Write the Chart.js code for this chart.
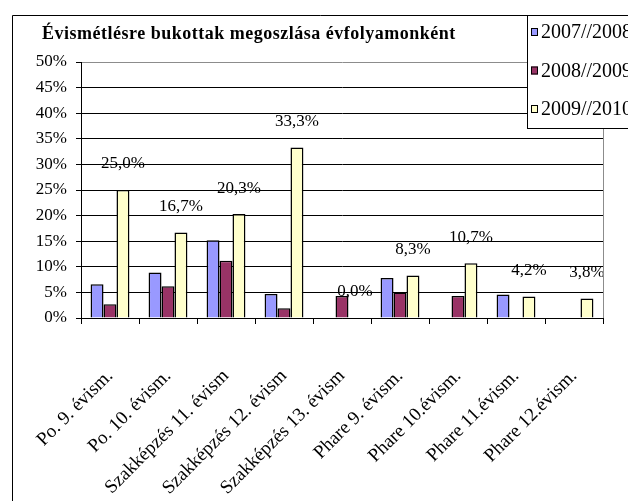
<!DOCTYPE html>
<html lang="hu">
<head>
<meta charset="UTF-8">
<title>Évismétlésre bukottak megoszlása évfolyamonként</title>
<script src="https://cdn.jsdelivr.net/npm/chart.js"></script>
<style>
  html, body { margin: 0; padding: 0; background: #fff; overflow: hidden; }
  #wrap { width: 628px; height: 501px; }
</style>
</head>
<body>
<div id="wrap"><canvas id="bukottChart" width="628" height="501"></canvas></div>
<script>
const chartTitle = 'Évismétlésre bukottak megoszlása évfolyamonként';
const categories = ['Po. 9. évism.', 'Po. 10. évism.', 'Szakképzés 11. évism', 'Szakképzés 12. évism',
    'Szakképzés 13. évism', 'Phare 9. évism.', 'Phare 10.évism.', 'Phare 11.évism.', 'Phare 12.évism.'];
const seriesNames = ['2007//2008', '2008//2009', '2009//2010'];
const values0708 = [6.6, 8.9, 15.2, 4.7, null, 7.8, null, 4.6, null];
const values0809 = [2.7, 6.2, 11.2, 1.9, 4.3, 5.0, 4.3, null, null];
const values0910 = [25.0, 16.7, 20.3, 33.3, 0.0, 8.3, 10.7, 4.2, 3.8];
const yTicks = [0, 5, 10, 15, 20, 25, 30, 35, 40, 45, 50];
const colors = ['#9999FF', '#993366', '#FFFFCC'];

const serif = "'Liberation Serif', 'Times New Roman', serif";

// keret, cím
const framePlugin = {
    id: 'frame',
    beforeDraw(chart) {
        const c = chart.ctx;
        c.save();
        c.fillStyle = '#fff';
        c.fillRect(0, 0, chart.width, chart.height);
        c.strokeStyle = '#000';
        c.lineWidth = 1;
        c.beginPath();
        c.moveTo(12.5, chart.height);
        c.lineTo(12.5, 15.5);
        c.lineTo(chart.width, 15.5);
        c.stroke();
        c.fillStyle = '#000';
        c.font = 'bold 18px ' + serif;
        c.letterSpacing = '0.5px';
        c.textBaseline = 'alphabetic';
        c.fillText(chartTitle, 42, 39);
        c.restore();
    },
    afterDraw(chart) {
        const c = chart.ctx;
        const a = chart.chartArea;
        c.save();
        // szürke jobb szél
        c.strokeStyle = '#8c8c8c';
        c.beginPath();
        c.moveTo(Math.round(a.right) + 0.5, a.top);
        c.lineTo(Math.round(a.right) + 0.5, a.bottom);
        c.stroke();
        // jelmagyarázat
        c.fillStyle = '#fff';
        c.fillRect(527, 15, 120, 113);
        c.strokeStyle = '#000';
        c.strokeRect(527.5, 15.5, 120, 113);
        c.font = '20px ' + serif;
        c.textBaseline = 'middle';
        chart.data.datasets.forEach((ds, i) => {
            const y = 32 + i * 38.5;
            c.fillStyle = ds.backgroundColor;
            c.fillRect(531, y - 4, 7, 8);
            c.strokeStyle = '#000';
            c.strokeRect(531.5, y - 3.5, 6, 7);
            c.fillStyle = '#000';
            c.fillText(ds.label, 541, y + 1);
        });
        c.restore();
    }
};

// értékcímkék a 2009/2010 oszlopok fölött
const valueLabels = {
    id: 'valueLabels',
    afterDatasetsDraw(chart) {
        const c = chart.ctx;
        const meta = chart.getDatasetMeta(2);
        const ds = chart.data.datasets[2];
        c.save();
        c.font = '17px ' + serif;
        c.fillStyle = '#000';
        c.textAlign = 'center';
        c.textBaseline = 'middle';
        meta.data.forEach((bar, i) => {
            const v = ds.data[i];
            if (v === null) return;
            c.fillText(v.toFixed(1).replace('.', ',') + '%', bar.x, bar.y - 26);
        });
        c.restore();
    }
};

const ctx = document.getElementById('bukottChart').getContext('2d');
new Chart(ctx, {
    type: 'bar',
    data: {
        labels: categories,
        datasets: [values0708, values0809, values0910].map((d, i) => ({
            label: seriesNames[i],
            data: d,
            backgroundColor: colors[i],
            borderColor: '#000',
            borderWidth: 1.5,
            borderSkipped: 'bottom',
            categoryPercentage: 0.67,
            barPercentage: 1
        }))
    },
    options: {
        responsive: false,
        animation: false,
        events: [],
        layout: { padding: { left: 0, top: 62, right: 25, bottom: 0 } },
        plugins: {
            legend: { display: false },
            title: { display: false },
            tooltip: { enabled: false }
        },
        scales: {
            x: {
                grid: { drawOnChartArea: false, drawTicks: true, tickLength: 6, tickColor: '#000', offset: true },
                border: { color: '#000', width: 1 },
                ticks: {
                    color: '#000',
                    font: { family: serif, size: 19 },
                    minRotation: 45,
                    maxRotation: 45,
                    autoSkip: false,
                    padding: 41
                },
                afterFit(scale) {
                    scale.height = 183;
                    scale.paddingLeft = 0;
                    scale.paddingRight = 0;
                }
            },
            y: {
                min: 0,
                max: 50,
                afterBuildTicks(scale) {
                    scale.ticks = yTicks.map(v => ({ value: v }));
                },
                grid: {
                    color: c => c.tick && c.tick.value === 50 ? '#8c8c8c' : '#000',
                    tickColor: '#000',
                    tickLength: 5
                },
                border: { color: '#000', width: 1 },
                ticks: {
                    color: '#000',
                    font: { family: serif, size: 17 },
                    padding: 9,
                    callback: v => v + '%'
                },
                afterFit(scale) {
                    scale.width = 81;
                }
            }
        }
    },
    plugins: [framePlugin, valueLabels]
});
</script>
</body>
</html>
